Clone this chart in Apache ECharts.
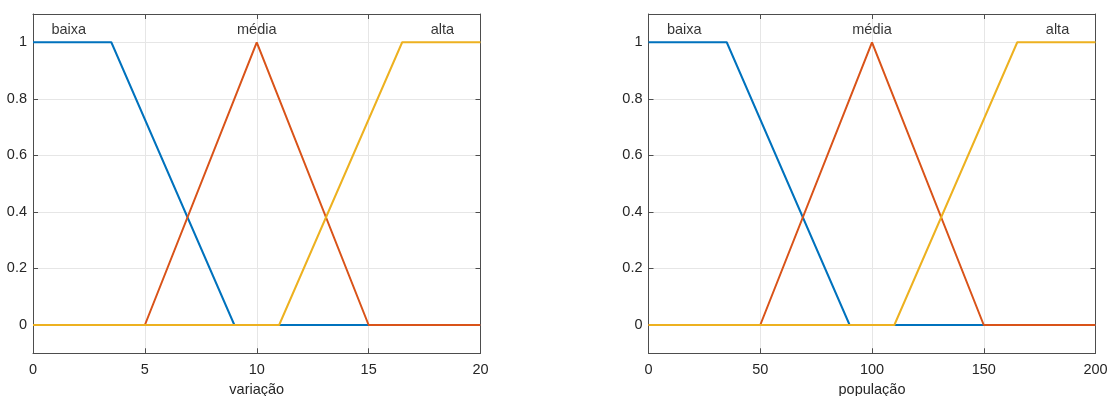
<!DOCTYPE html>
<html>
<head>
<meta charset="utf-8">
<script src="https://cdn.jsdelivr.net/npm/echarts@6/dist/echarts.min.js"></script>
<style>html,body{margin:0;padding:0;background:#fff}#c{width:1114px;height:396px}</style>
</head>
<body>
<div id="c"></div>
<script>
// Left plot: variação
const varBaixa = [[0,1],[3.5,1],[9,0],[20,0]];
const varMedia = [[0,0],[5,0],[10,1],[15,0],[20,0]];
const varAlta  = [[0,0],[11,0],[16.5,1],[20,1]];
const varLabels = [[1.6,1.045,'baixa'],[10,1.045,'média'],[18.3,1.045,'alta']];
const varTicks = [0,5,10,15,20];
// Right plot: população
const popBaixa = [[0,1],[35,1],[90,0],[200,0]];
const popMedia = [[0,0],[50,0],[100,1],[150,0],[200,0]];
const popAlta  = [[0,0],[110,0],[165,1],[200,1]];
const popLabels = [[16,1.045,'baixa'],[100,1.045,'média'],[183,1.045,'alta']];
const popTicks = [0,50,100,150,200];
const yTicks = [0,0.2,0.4,0.6,0.8,1];

const COLORS = ['#0072BD','#D95319','#EDB120'];
const FONT = 'Liberation Sans';
const AXC = '#4d4d4d';
const TXT = '#262626';
const GRIDC = '#e6e6e6';

const grids = [
  {left:33, right:633.5, top:14, bottom:42.73, containLabel:false, outerBoundsMode:'none'},
  {left:648.5, right:18.5, top:14, bottom:42.73, containLabel:false, outerBoundsMode:'none'}
];

function xAxes(gi, max, ticks, name) {
  return [
    {gridIndex:gi, type:'value', min:0, max:max, position:'bottom',
     name:name, nameLocation:'middle', nameGap:29,
     nameTextStyle:{fontFamily:FONT, fontSize:14.5, color:TXT},
     axisLine:{onZero:false, lineStyle:{color:AXC, width:1}},
     axisTick:{inside:true, length:5, customValues:ticks, lineStyle:{color:AXC}},
     axisLabel:{customValues:ticks, fontFamily:FONT, fontSize:14.5, color:TXT, margin:9},
     splitLine:{show:true, lineStyle:{color:GRIDC, width:1}}},
    {gridIndex:gi, type:'value', min:0, max:max, position:'top',
     axisLine:{onZero:false, lineStyle:{color:AXC, width:1}},
     axisTick:{inside:true, length:5, customValues:ticks, lineStyle:{color:AXC}},
     axisLabel:{show:false}, splitLine:{show:false}}
  ];
}
function yAxes(gi) {
  return [
    {gridIndex:gi, type:'value', min:-0.1, max:1.1, position:'left',
     axisLine:{onZero:false, lineStyle:{color:AXC, width:1}},
     axisTick:{inside:true, length:5, customValues:yTicks, lineStyle:{color:AXC}},
     axisLabel:{customValues:yTicks, fontFamily:FONT, fontSize:14.5, color:TXT, margin:6,
       formatter:v=>String(Math.round(v*10)/10)},
     splitLine:{show:true, lineStyle:{color:GRIDC, width:1}}},
    {gridIndex:gi, type:'value', min:-0.1, max:1.1, position:'right',
     axisLine:{onZero:false, lineStyle:{color:AXC, width:1}},
     axisTick:{inside:true, length:5, customValues:yTicks, lineStyle:{color:AXC}},
     axisLabel:{show:false}, splitLine:{show:false}}
  ];
}

function lineS(xi, yi, data, color) {
  return {type:'line', xAxisIndex:xi, yAxisIndex:yi, data:data, symbol:'none',
    lineStyle:{color:color, width:2}, itemStyle:{color:color}, animation:false, silent:true};
}
function labelS(xi, yi, data) {
  return {type:'scatter', xAxisIndex:xi, yAxisIndex:yi, data:data, symbolSize:0, animation:false, silent:true,
    label:{show:true, position:'inside', formatter:p=>p.data[2], fontFamily:FONT, fontSize:14.5, color:'#000'}};
}

const chart = echarts.init(document.getElementById('c'), null, {renderer:'canvas'});
chart.setOption({
  backgroundColor:'#fff',
  animation:false,
  grid: grids,
  xAxis: [...xAxes(0, 20, varTicks, 'variação'), ...xAxes(1, 200, popTicks, 'população')],
  yAxis: [...yAxes(0), ...yAxes(1)],
  series: [
    lineS(0,0,varBaixa,COLORS[0]), lineS(0,0,varMedia,COLORS[1]), lineS(0,0,varAlta,COLORS[2]),
    labelS(0,0,varLabels),
    lineS(2,2,popBaixa,COLORS[0]), lineS(2,2,popMedia,COLORS[1]), lineS(2,2,popAlta,COLORS[2]),
    labelS(2,2,popLabels)
  ]
});
</script>
</body>
</html>
